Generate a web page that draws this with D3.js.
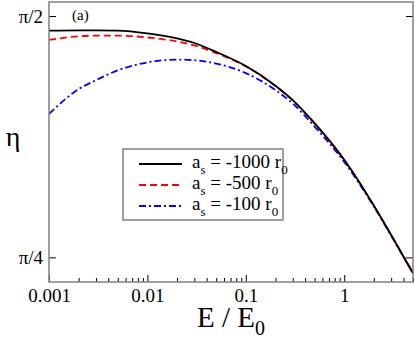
<!DOCTYPE html>
<html>
<head>
<meta charset="utf-8">
<script src="https://cdn.jsdelivr.net/npm/d3@7"></script>
<style>
  body { margin: 0; background: #fff; }
  svg { display: block; }
</style>
</head>
<body>
<svg id="chart" width="415" height="339"></svg>
<script>
// E / E0 sample points (log axis)
var energy = [0.001, 0.002, 0.003, 0.005, 0.01, 0.02, 0.03, 0.05, 0.1, 0.2, 0.3, 0.5, 1, 2, 3, 5];

// eta (radians)
var eta1000 = [1.523, 1.524, 1.524, 1.523, 1.514, 1.498, 1.483, 1.454, 1.408, 1.344, 1.297, 1.222, 1.103, 0.954, 0.858, 0.734];
var eta500  = [1.493, 1.505, 1.507, 1.507, 1.501, 1.488, 1.475, 1.450, 1.407, 1.343, 1.296, 1.220, 1.102, 0.953, 0.858, 0.734];
var eta100  = [1.252, 1.333, 1.362, 1.394, 1.420, 1.429, 1.427, 1.416, 1.385, 1.330, 1.286, 1.211, 1.096, 0.951, 0.856, 0.734];

var seriesNames = ["-1000", "-500", "-100"];
var seriesColors = ["#000000", "#ff0000", "#0000ff"];
var seriesDash = [null, "7,4", "7,3,2,3"];

var xMajor = [0.001, 0.01, 0.1, 1];
var xTickLabels = ["0.001", "0.01", "0.1", "1"];
var yTicks = [Math.PI / 4, Math.PI / 2];
var yTickLabels = ["\u03c0/4", "\u03c0/2"];

var serif = "'Liberation Serif', 'DejaVu Serif', serif";
var svg = d3.select("#chart");
var pL = 49, pR = 413, pT = 2, pB = 282;

var x = d3.scaleLog().domain([0.001, 5]).range([pL, pR]);
var y = d3.scaleLinear().domain([0.7053, 1.6164]).range([pB, pT]);

function tidy(g) {
  g.attr("font-family", serif).attr("font-size", null);
  g.select(".domain").remove();
  g.selectAll("line").attr("stroke", "#000");
  g.selectAll("text").style("font-family", serif).attr("fill", "#000");
}

// minor ticks, every 1..9 in each decade
var minor = x.ticks().filter(function(d) { return xMajor.indexOf(d) < 0; });

svg.append("g")
  .attr("transform", "translate(0," + pB + ")")
  .call(d3.axisBottom(x).tickValues(minor).tickSizeInner(-4).tickSizeOuter(0).tickFormat(""))
  .call(tidy);

svg.append("g")
  .attr("transform", "translate(0," + pB + ")")
  .call(d3.axisBottom(x).tickValues(xMajor).tickSizeInner(-7).tickSizeOuter(0)
    .tickFormat(function(d, i) { return xTickLabels[i]; }))
  .call(tidy)
  .call(function(g) {
    g.selectAll("text").attr("y", 20).attr("dy", 0).style("font-size", "19px");
  });

// left ticks with labels
svg.append("g")
  .attr("transform", "translate(" + pL + ",0)")
  .call(d3.axisLeft(y).tickValues(yTicks).tickSizeInner(-7).tickSizeOuter(0)
    .tickFormat(function(d, i) { return yTickLabels[i]; }))
  .call(tidy)
  .call(function(g) {
    g.selectAll("text").attr("x", -6).style("font-size", "19px");
  });

// right ticks, mirrored
svg.append("g")
  .attr("transform", "translate(" + pR + ",0)")
  .call(d3.axisRight(y).tickValues(yTicks).tickSizeInner(-7).tickSizeOuter(0).tickFormat(""))
  .call(tidy);

// curves
var line = d3.line()
  .x(function(d) { return x(d[0]); })
  .y(function(d) { return y(d[1]); })
  .curve(d3.curveMonotoneX);

var allSeries = [eta1000, eta500, eta100];
[2, 1, 0].forEach(function(i) {
  svg.append("path")
    .datum(energy.map(function(e, j) { return [e, allSeries[i][j]]; }))
    .attr("d", line)
    .attr("fill", "none")
    .attr("stroke", seriesColors[i])
    .attr("stroke-width", 1.8)
    .attr("stroke-dasharray", seriesDash[i]);
});

// frame
svg.append("rect")
  .attr("x", pL).attr("y", pT)
  .attr("width", pR - pL).attr("height", pB - pT)
  .attr("fill", "none").attr("stroke", "#808080").attr("stroke-width", 1.5);

// panel label
svg.append("text")
  .attr("x", 72).attr("y", 20)
  .style("font-family", serif)
  .style("font-size", "15px")
  .text("(a)");

// axis titles
var xt = svg.append("text")
  .attr("x", (pL + pR) / 2).attr("y", 327)
  .attr("text-anchor", "middle")
  .style("font-family", serif)
  .style("font-size", "29px");
xt.append("tspan").text("E / E");
xt.append("tspan").attr("dy", 8).style("font-size", "20px").text("0");

svg.append("text")
  .attr("x", 13).attr("y", 146)
  .attr("text-anchor", "middle")
  .style("font-family", serif)
  .style("font-size", "28px")
  .text("\u03b7");

// legend
svg.append("rect")
  .attr("x", 123).attr("y", 149).attr("width", 160).attr("height", 71)
  .attr("fill", "#fff").attr("stroke", "#808080").attr("stroke-width", 1.5);

var legY = [164, 185, 206];
seriesNames.forEach(function(name, i) {
  svg.append("line")
    .attr("x1", 139).attr("x2", 182)
    .attr("y1", legY[i]).attr("y2", legY[i])
    .attr("stroke", seriesColors[i]).attr("stroke-width", 1.8)
    .attr("stroke-dasharray", seriesDash[i]);
  var t = svg.append("text")
    .attr("x", 192).attr("y", legY[i] + 4)
    .style("font-family", serif)
    .style("font-size", "19px");
  t.append("tspan").text("a");
  t.append("tspan").attr("dy", 6).style("font-size", "13px").text("s");
  t.append("tspan").attr("dy", -6).text(" = " + name + " r");
  t.append("tspan").attr("dy", 6).style("font-size", "13px").text("0");
});
</script>
</body>
</html>
